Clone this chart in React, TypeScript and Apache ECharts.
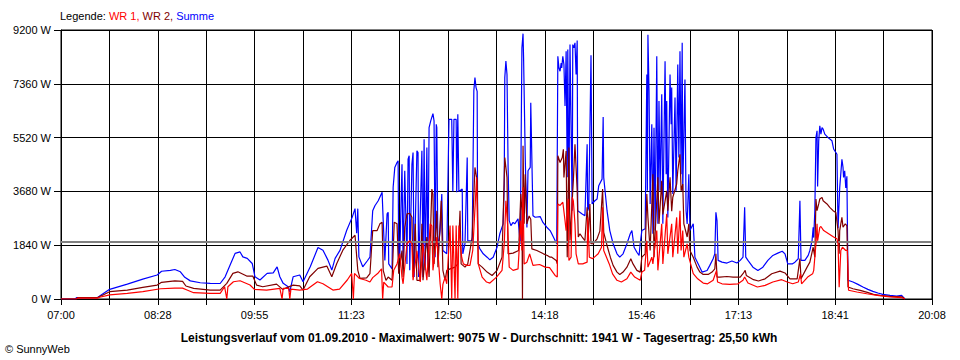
import React, { useEffect, useRef } from "react";
import * as echarts from "echarts";

// Axis definitions
const TICK_LABELS = ["07:00", "08:28", "09:55", "11:23", "12:50", "14:18", "15:46", "17:13", "18:41", "20:08"];
const X_MAX = 788; // minutes from 07:00 to 20:08
const X_GRID_LINES = 18;
const Y_MAX = 9200;
const Y_STEP = 1840;
const AVERAGE = 1941;

const LEGEND_PARTS = ["Legende: ", "WR 1, ", "WR 2, ", "Summe"];
const TITLE = "Leistungsverlauf vom 01.09.2010 - Maximalwert: 9075 W - Durchschnitt: 1941 W - Tagesertrag: 25,50 kWh";
const COPYRIGHT = "© SunnyWeb";

// [minutes after 07:00, watts]
const WR1: number[][] = [
  [0,0],[14,0],[15,30],[33,30],[35,60],[44,140],[60,190],[74,250],[90,350],[103,375],[110,370],[114,310],[120,215],[135,195],[144,195],[148,420],[150,0],[151,420],[156,590],[162,625],[171,480],[175,330],[186,305],[198,365],[200,0],[201,365],[206,365],[207,0],[208,340],[216,305],[223,340],[232,590],[237,520],[246,305],[252,340],[259,650],[263,875],[264.5,0],[265.5,875],[270,700],[276,640],[279.5,580],[282,730],[287,890],[290,1030],[291,0],[292,580],[296,410],[299.5,410],[301,980],[304,1200],[306.5,1550],[308.5,750],[309.5,520],[313,1890],[315.5,2000],[317.5,1890],[318.5,640],[322,1650],[325,580],[327.5,1890],[331,640],[334,2570],[335.5,2500],[336.5,980],[340,2120],[343,520],[344.5,0],[345.5,500],[347.5,750],[349,520],[352,2510],[353.5,0],[354.5,2510],[356.5,0],[357.5,2510],[359,0],[360,2510],[362.5,1430],[364,1200],[367,1150],[370,1150],[372.5,1660],[376,4160],[377.5,1200],[381,750],[385,580],[388,545],[394,750],[399,980],[401,1890],[402.5,3360],[404,2570],[405.5,1090],[409,980],[413.5,1030],[416,2680],[417,1660],[418,3820],[419,1200],[421.5,1260],[424,1540],[427,1150],[433,1180],[438,1090],[442,1070],[447,805],[449,750],[449.5,3250],[451.5,3200],[454,3310],[456,2680],[457,2340],[459,3430],[459.5,1320],[461.5,1430],[462.5,3480],[463.5,3360],[465,2570],[466,1545],[468,1200],[472,1200],[476,1260],[476.5,2790],[478,1430],[481,1380],[486,1545],[489,1770],[490,3135],[491,1660],[496,1200],[499,860],[503,640],[507,580],[512,690],[515.5,920],[519,750],[524,640],[525.5,920],[528,980],[530,1990],[531,1090],[534.5,1430],[535.5,1200],[539,2340],[540,980],[543.5,2570],[544.5,1200],[548,2910],[549,1545],[552.5,2570],[553.5,1430],[557,2790],[558,1545],[560,3020],[561,1660],[562.5,2340],[563.5,1430],[566.5,1890],[568,1430],[572,865],[576,690],[581,545],[585,520],[590,640],[593,970],[594,580],[598,520],[605,500],[612.5,520],[617,640],[618.5,750],[621.5,545],[630,410],[637,465],[644,580],[652,660],[657,580],[662,520],[667,580],[669,860],[670,520],[675.5,750],[680,860],[681,980],[683,1890],[684,2570],[684.5,1990],[686.5,2450],[687.5,2480],[690,2340],[694.5,2230],[699,2120],[702,2060],[703,1890],[704,400],[705.5,1660],[707,1770],[710,1660],[711.5,1660],[712.5,300],[720,240],[729,180],[738.5,125],[750,70],[761,45],[763.5,0]
];

const WR2: number[][] = [
  [0,0],[14,0],[15,50],[33,50],[38,135],[44,250],[60,305],[74,400],[87,475],[91,570],[103,620],[110,600],[113,445],[120,365],[135,305],[144,305],[150,535],[155.5,875],[160,930],[168,785],[173.5,785],[177,475],[182.5,420],[195,510],[200.5,330],[210,475],[216,450],[219,305],[225,760],[232.5,1045],[240.5,1125],[245,760],[249.5,1215],[255,1670],[261.5,2010],[266,2180],[268.5,990],[270.5,705],[276.5,720],[279.5,865],[282,2340],[286,2340],[288.5,2570],[290.5,2625],[291.5,980],[294,640],[296,750],[299.5,640],[301.5,2625],[304,2570],[305.5,865],[308.5,1660],[309.5,750],[311,2455],[313,2910],[315.5,2930],[317.5,2795],[318.5,750],[320.5,2570],[322,640],[325,640],[326.5,2570],[327.5,640],[331,2120],[333,750],[335.5,3760],[336.5,3590],[337.5,1200],[340,3020],[341,1090],[344,3360],[345.5,980],[347.5,640],[349,980],[352,1030],[356.5,1090],[359,1200],[361,3020],[362,1200],[365.5,1090],[368,1200],[372,2120],[374.5,4500],[376.5,4040],[377.5,1200],[381,1090],[385.5,920],[390,805],[394.5,980],[399,1430],[400,2795],[401.5,4840],[403.5,4160],[404.5,1545],[409,1570],[414,1660],[416,3590],[417,3020],[417.5,0],[418,5240],[419,2570],[420,4270],[421.5,2570],[423.5,2840],[425,2730],[426,1715],[430.5,1660],[436.5,1545],[440,1490],[442.5,1430],[444,1430],[448,1320],[449,1200],[449.5,4900],[451.5,4670],[453.5,4840],[454.5,5120],[455,4160],[457,5060],[458,1430],[459.5,5180],[460.5,2000],[462.5,3360],[463.5,4040],[465,5295],[467,3700],[468,2120],[469.5,2230],[471.5,2120],[474,2000],[476,3135],[477,2120],[478.5,3250],[479.5,1890],[481.5,1890],[485,2060],[487.5,2320],[490,3760],[491,2280],[494,1830],[497,1430],[499.5,1150],[503,920],[505.5,840],[508.5,920],[512,1090],[515.5,1380],[517.5,1200],[521,980],[524,920],[525.5,1430],[528.5,1545],[530,3590],[531,2790],[533,1660],[535.5,4270],[536.5,1430],[540,4160],[541,2570],[543.5,4040],[544.5,2890],[548,3700],[549,3020],[551,4160],[552.5,3000],[553.5,3480],[557,3930],[558,4385],[560,4950],[561,3700],[562.5,3930],[563.5,2570],[566.5,2120],[568,2570],[569,1660],[572,1430],[575.5,1090],[578,920],[581,840],[585.5,840],[589,920],[591.5,1030],[592.5,1545],[593.5,750],[596,750],[602.5,770],[608,750],[614.5,750],[617,865],[619,980],[620,805],[626.5,660],[631,615],[637,690],[643,865],[650.5,955],[655,890],[659.5,690],[666,690],[668.5,1380],[669.5,690],[675,1090],[677.5,1260],[680.5,1770],[682,1430],[683,3420],[684,3020],[685.5,3250],[686.5,3420],[688.5,3475],[689.5,3360],[693,3250],[695.5,3135],[698.5,3020],[701,2960],[703,2340],[704,1545],[704.5,2340],[706.5,2790],[707.5,2455],[709.5,2570],[711,2510],[712,410],[716.5,350],[723,295],[729.5,225],[735,160],[741,125],[750,90],[761,70],[763.5,0]
];

const SUMME: number[][] = [
  [0,0],[13,0],[14,45],[33,45],[35,100],[44,330],[60,510],[74,680],[87,820],[91,950],[99,980],[103,1010],[108,930],[112,740],[117,620],[126,555],[135,535],[144,530],[148.5,760],[153,1160],[157.5,1560],[162,1610],[164.5,1440],[168.5,1390],[173,1215],[175.5,760],[180,650],[186.5,875],[192,895],[195.5,1100],[198,760],[201,535],[205.5,420],[207,250],[208,420],[210,760],[216,820],[219,590],[225.5,1100],[232.5,1760],[237,1670],[241.5,1330],[245,990],[248,1390],[252.5,1670],[258.5,2350],[263.5,2800],[266,3090],[267.5,2250],[268.5,3090],[269.5,1440],[273,1100],[277,1300],[279.5,1430],[282,3020],[284,3190],[287,3360],[290.5,3650],[291.5,2680],[293,1320],[295,2910],[296,2965],[296.5,1200],[299.5,1030],[300.5,3820],[302,4500],[304,4670],[305,4730],[305.5,1430],[306.5,1430],[308.5,4610],[309.5,1200],[311,4385],[313,1200],[314,4780],[315,4900],[315.5,980],[317.5,4610],[318.5,5010],[319.5,750],[322,5070],[323,5010],[323.5,750],[326.5,5070],[327.5,750],[328.5,5465],[329.5,980],[331,5180],[332,980],[333,5860],[334.5,6090],[336.5,6340],[337.5,6090],[338.5,1430],[339.5,5975],[340,5860],[341,1660],[343,2340],[344.5,3590],[345.5,1660],[349,1545],[351,6145],[353.5,6145],[354.5,3680],[355.5,6145],[357.5,6145],[358,3650],[359,6320],[360,3680],[363,3760],[363.5,1545],[365.5,1890],[367.5,4840],[368,1990],[372,1990],[373.5,7130],[374.5,7570],[375.5,7230],[376.5,7100],[377,1890],[379,1715],[382,1545],[385.5,1430],[388,1340],[391,1430],[394.5,1770],[397,2230],[400,2570],[401,3930],[401.5,7570],[402.5,8135],[403.5,7680],[404.5,4500],[405.5,2680],[407,2510],[409,2620],[410.5,2570],[413.5,2740],[415.5,1890],[417,8590],[418,9075],[418.5,8250],[420,4840],[421.5,2450],[422.5,4385],[424.5,4500],[425,6715],[427,2850],[429,2795],[433.5,2820],[436,2620],[439.5,2455],[442.5,2340],[444,2230],[447,2000],[448.5,1890],[449.5,8300],[450.5,7900],[451.5,7790],[452.5,8070],[453,7900],[454,8300],[455,8020],[456,6600],[457,8475],[458,4160],[458.5,8530],[459.5,3250],[460.5,8700],[462.5,3020],[463,8700],[464,8590],[465,8760],[466,7680],[467,8840],[467.5,3020],[471.5,2910],[474,2850],[476,5295],[476.5,3020],[477.5,3135],[479.5,8340],[480.5,3250],[483,3360],[485,3420],[486.5,3875],[489.5,4100],[490.5,6225],[491,4160],[494,3020],[496.5,2340],[499.5,1890],[503,1545],[505.5,1430],[508.5,1545],[512,1890],[515,2230],[516.5,2340],[518.5,1770],[521,1600],[523,1490],[524,1890],[525.5,2340],[528.5,2400],[530,7680],[530.5,3700],[531,9040],[532,7110],[533,3250],[534.5,5980],[535.5,2230],[536.5,5860],[537.5,2340],[539,8300],[540,2570],[541,6770],[542,3700],[543.5,7000],[544.5,2570],[546.5,8135],[547.5,4270],[548,6770],[549,2790],[551,7680],[552,5980],[552.5,7230],[553.5,3590],[555.5,6890],[556.5,3700],[558,8020],[559,4840],[560,8475],[561,4270],[562,8760],[562.5,3700],[564.5,7510],[565.5,3020],[566.5,2570],[568,4270],[569,2340],[572,2570],[573.5,1430],[576.5,1200],[580,920],[584.5,975],[587,1150],[590,1375],[591.5,1545],[592.5,2965],[593.5,2680],[594.5,1320],[598,1260],[602.5,1230],[607,1300],[611.5,1230],[614.5,1320],[617,1430],[618.5,3135],[619.5,1430],[621.5,1320],[626,1090],[630.5,975],[635,1090],[639.5,1320],[644,1490],[648.5,1570],[652.5,1635],[655,1545],[657.5,1200],[661.5,1200],[664,1260],[667,1375],[668.5,3360],[669.5,1320],[673,1320],[676,1490],[677.5,1660],[679.5,2000],[680.5,2450],[681,2100],[682,3020],[683,5520],[684,5750],[684.5,3850],[685.5,5400],[686.5,5920],[687.5,5640],[688.5,5860],[689.5,5810],[691,5640],[694,5520],[697.5,5410],[699,5130],[702,4950],[703,2420],[704.5,3800],[706.5,4780],[707.5,4500],[708,4160],[709,4385],[710,3800],[711,4200],[712,640],[716.5,580],[721,500],[725.5,410],[730,330],[734.5,260],[739,205],[743.5,160],[750,125],[756,100],[760.5,125],[763.5,0]
];

const COLORS = { wr1: "#ff0000", wr2: "#800000", summe: "#0000ff", avg: "#808080" };
const FONT = "'Liberation Sans', Arial, sans-serif";

export default function App() {
  const ref = useRef<HTMLDivElement>(null);
  useEffect(() => {
    if (!ref.current) return;
    const chart = echarts.init(ref.current, null, { renderer: "svg" });
    const xStep = X_MAX / X_GRID_LINES;
    const lineSeries = (name: string, data: number[][], color: string, extra: any = {}) => ({
      name,
      type: "line",
      data,
      symbol: "none",
      showSymbol: false,
      lineStyle: { color, width: 1.2 },
      itemStyle: { color },
      emphasis: { disabled: true },
      silent: true,
      ...extra,
    });
    chart.setOption({
      animation: false,
      backgroundColor: "#ffffff",
      textStyle: { fontFamily: FONT },
      grid: { left: 61, right: 28, top: 30, bottom: 61, show: true, borderColor: "#000", borderWidth: 1, backgroundColor: "transparent" },
      xAxis: {
        type: "value",
        min: 0,
        max: X_MAX,
        interval: xStep,
        axisLine: { lineStyle: { color: "#000", width: 1 } },
        axisTick: { show: true, length: 6, lineStyle: { color: "#000" } },
        splitLine: { show: true, lineStyle: { color: "#000", width: 1 } },
        axisLabel: {
          color: "#000",
          fontSize: 11,
          fontFamily: FONT,
          margin: 10,
          showMaxLabel: true,
          formatter: (v: number) => {
            const i = Math.round(v / xStep);
            return i % 2 === 0 ? TICK_LABELS[i / 2] ?? "" : "";
          },
        },
      },
      yAxis: {
        type: "value",
        min: 0,
        max: Y_MAX,
        interval: Y_STEP,
        axisLine: { show: true, lineStyle: { color: "#000", width: 1 } },
        axisTick: { show: true, length: 7, lineStyle: { color: "#000" } },
        splitLine: { show: true, lineStyle: { color: "#000", width: 1 } },
        axisLabel: { color: "#000", fontSize: 11, fontFamily: FONT, margin: 10, formatter: (v: number) => `${v} W` },
      },
      series: [
        lineSeries("Summe", SUMME, COLORS.summe, {
          z: 3,
          markLine: {
            silent: true,
            symbol: ["none", "none"],
            label: { show: false },
            lineStyle: { color: COLORS.avg, width: 2, type: "solid" },
            data: [{ yAxis: AVERAGE }],
          },
        }),
        lineSeries("WR 2", WR2, COLORS.wr2, { z: 4 }),
        lineSeries("WR 1", WR1, COLORS.wr1, { z: 5 }),
      ],
      graphic: [
        {
          type: "text",
          left: 60,
          top: 10,
          style: {
            text: `{k|${LEGEND_PARTS[0]}}{a|${LEGEND_PARTS[1]}}{b|${LEGEND_PARTS[2]}}{c|${LEGEND_PARTS[3]}}`,
            fontSize: 11,
            fontFamily: FONT,
            rich: {
              k: { fill: "#000", fontSize: 11, fontFamily: FONT },
              a: { fill: COLORS.wr1, fontSize: 11, fontFamily: FONT },
              b: { fill: COLORS.wr2, fontSize: 11, fontFamily: FONT },
              c: { fill: COLORS.summe, fontSize: 11, fontFamily: FONT },
            },
          },
        },
        {
          type: "text",
          x: 479,
          y: 338,
          style: { text: TITLE, fill: "#000", fontSize: 12, fontWeight: "bold", fontFamily: FONT, align: "center", verticalAlign: "middle" },
        },
        {
          type: "text",
          x: 5,
          y: 349,
          style: { text: COPYRIGHT, fill: "#000", fontSize: 11, fontFamily: FONT, align: "left", verticalAlign: "middle" },
        },
      ],
    });
    return () => chart.dispose();
  }, []);
  return <div ref={ref} style={{ position: "fixed", left: 0, top: 0, width: 960, height: 360, background: "#fff" }} />;
}
